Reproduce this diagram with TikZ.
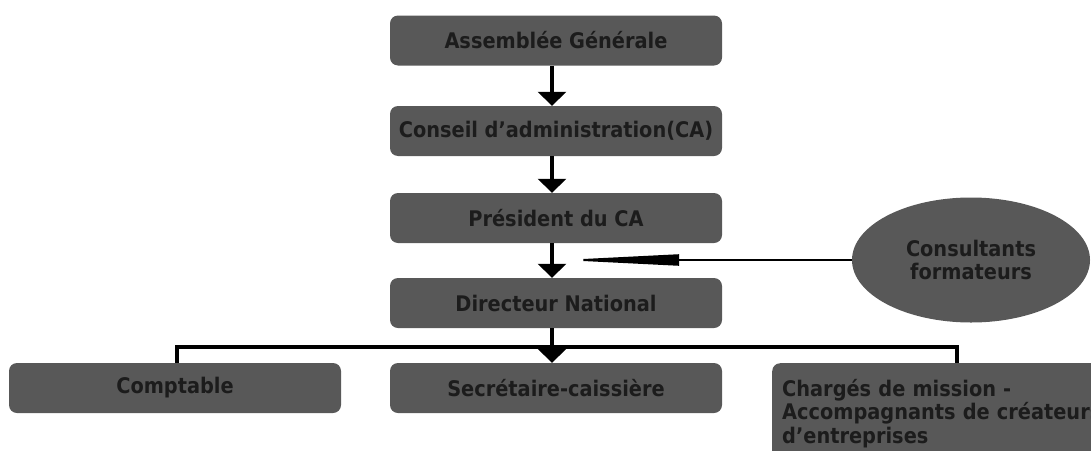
\documentclass[tikz,border=0pt]{standalone}
\usepackage{fontspec}
\setmainfont{DejaVu Sans Condensed}
\usetikzlibrary{arrows.meta,shapes.geometric}
\definecolor{boxgrey}{HTML}{585858}
\definecolor{inkgrey}{HTML}{1C1C1C}
\tikzset{
  orgbox/.style={fill=boxgrey, rounded corners=8pt, minimum width=332pt,
    minimum height=50pt, inner sep=0pt, text=inkgrey,
    font=\fontsize{21.5}{23.5}\selectfont\bfseries},
  flow/.style={line width=4pt, -{Triangle[length=14pt,width=28pt]}},
  busline/.style={line width=4pt},
  feed/.style={line width=2pt, -{Triangle[length=117pt,width=11pt]}},
}
\begin{document}
\begin{tikzpicture}[x=1pt,y=-1pt]
\useasboundingbox (0,0) rectangle (1091,450);
%%
  % Node: ag
  \node[orgbox] (ag) at (556,40.5) {Assemblée Générale};
  % Node: ca
  \node[orgbox] (ca) at (556,131) {Conseil d’administration(CA)};
  % Node: pca
  \node[orgbox] (pca) at (556,218) {Président du CA};
  % Node: dn
  \node[orgbox] (dn) at (556,303) {Directeur National};
  % Node: cons
  \node[ellipse, fill=boxgrey, minimum width=238pt, minimum height=125pt,
    inner sep=0pt, text=inkgrey, align=center,
    font=\fontsize{21.5}{23.5}\selectfont\bfseries] (cons) at (971,260)
    {Consultants\\formateurs};
  % Node: cpt
  \node[orgbox] (cpt) at (175,388) {Comptable};
  % Node: sec
  \node[orgbox] (sec) at (556,388) {Secrétaire-caissière};
  % Node: chg
  \node[orgbox, anchor=north west, minimum width=340pt, minimum height=100pt,
    text width=320pt, align=left] (chg) at (772,363)
    {Chargés de mission -\\Accompagnants de créateurs\\d’entreprises};
%
  % Edge: ag -> ca
  \draw[flow] ([xshift=-4pt]ag.south) -- ([xshift=-4pt]ca.north);
  % Edge: ca -> pca
  \draw[flow] ([xshift=-4pt]ca.south) -- ([xshift=-4pt]pca.north);
  % Edge: pca -> dn
  \draw[flow] ([xshift=-4pt]pca.south) -- ([xshift=-4pt]dn.north);
  % Edge: cons -> join
  \coordinate (join) at (562,260);
  \draw[feed] (cons.west) -- (join);
  % Edge: dn -> cpt, sec, chg
  \coordinate (bus) at (552,347);
  \draw[busline] ([xshift=-4pt]dn.south) -- (bus);
  \draw[busline] ([xshift=2pt]cpt.north) |- (bus) -| ([xshift=185pt]chg.north west);
  \draw[flow] (bus) -- ([xshift=-4pt]sec.north);
%
\end{tikzpicture}
\end{document}
